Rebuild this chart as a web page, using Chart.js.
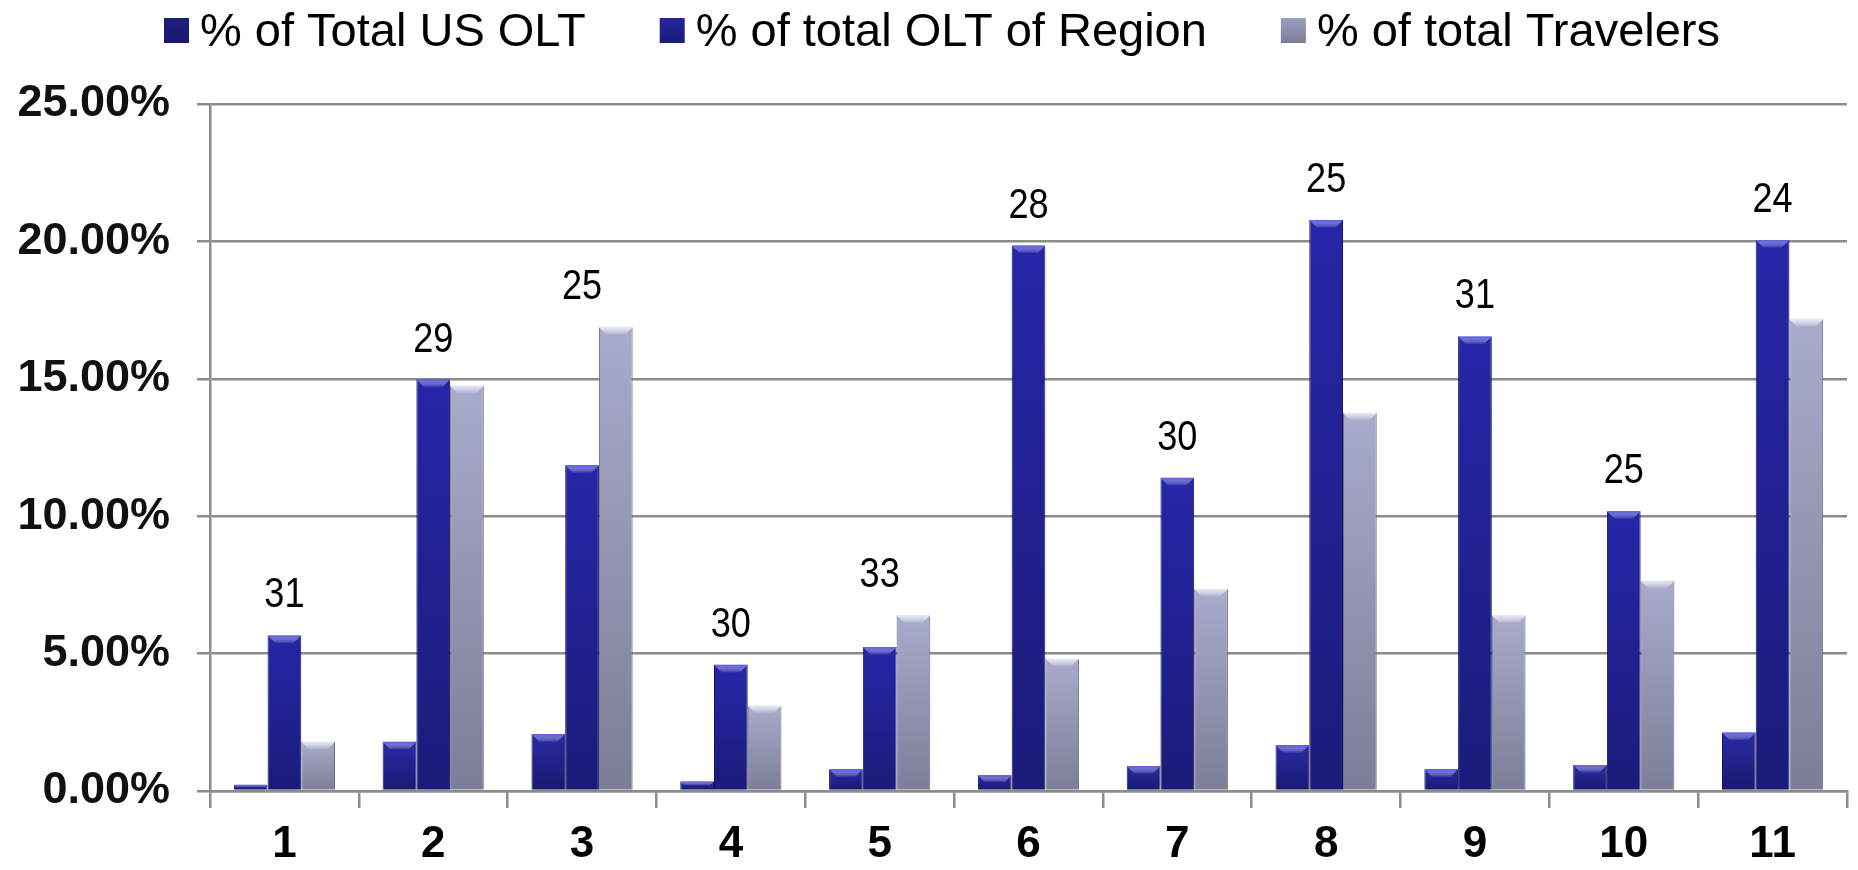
<!DOCTYPE html>
<html>
<head>
<meta charset="utf-8">
<script src="https://cdn.jsdelivr.net/npm/chart.js@4.4.0/dist/chart.umd.min.js"></script>
<style>
html,body{margin:0;padding:0;background:#ffffff;}
#wrap{width:1858px;height:870px;position:relative;}
</style>
</head>
<body>
<div id="wrap"><canvas id="c"></canvas></div>
<script>
// ---- data ----
const categories = ['1','2','3','4','5','6','7','8','9','10','11'];
const seriesNames = ['% of Total US OLT','% of total OLT of Region','% of total Travelers'];
const totalUsOlt = [0.23, 1.79, 2.07, 0.35, 0.79, 0.57, 0.91, 1.67, 0.79, 0.95, 2.13];
const regionOlt  = [5.66, 14.97, 11.85, 4.59, 5.24, 19.85, 11.40, 20.78, 16.54, 10.18, 20.05];
const travelers  = [1.79, 14.75, 16.88, 3.10, 6.39, 4.81, 7.35, 13.76, 6.39, 7.65, 17.17];
const sampleSizes = [31, 29, 25, 30, 33, 28, 30, 25, 31, 25, 24];
const yTicks = [0, 5, 10, 15, 20, 25];

// ---- styles ----
const FONT = '"Liberation Sans", Arial, Helvetica, sans-serif';
const seriesStyles = [
  {top:'#2a2aa6', bottom:'#191970', cap:'#5a5ad8', legend:'#1d1d7c', border:'#15155e'},
  {top:'#2626a8', bottom:'#1b1b7a', cap:'#5c5ce0', legend:'#2424a0', border:'#16165f'},
  {top:'#a9abcb', bottom:'#7c7d97', cap:'#e6e6f4', legend:'#9d9ebf', border:'#6d6e88'}
];

function barGradient(st){
  return function(ctx){
    const chart = ctx.chart;
    const area = chart.chartArea;
    if (!area || ctx.raw === undefined) return st.top;
    const yScale = chart.scales.y;
    const yTop = yScale.getPixelForValue(ctx.raw);
    const yBot = yScale.getPixelForValue(0);
    if (!isFinite(yTop) || yBot - yTop < 1) return st.top;
    const g = chart.ctx.createLinearGradient(0, yTop, 0, yBot);
    g.addColorStop(0, st.top);
    g.addColorStop(1, st.bottom);
    return g;
  };
}

const seriesData = [totalUsOlt, regionOlt, travelers];

const datasets = seriesData.map((d, i) => ({
  label: seriesNames[i],
  data: d,
  backgroundColor: barGradient(seriesStyles[i]),
  borderColor: seriesStyles[i].border,
  borderWidth: {left:1, right:1, top:0, bottom:0},
  categoryPercentage: 0.68,
  barPercentage: 1.0
}));

// bevel highlight on bar tops
const bevelPlugin = {
  id: 'bevel',
  afterDatasetsDraw(chart){
    const ctx = chart.ctx;
    chart.data.datasets.forEach((ds, di) => {
      const meta = chart.getDatasetMeta(di);
      meta.data.forEach(el => {
        const h = el.base - el.y;
        if (h < 3) return;
        const w = el.width;
        const d = Math.min(8, h/2);
        const x0 = el.x - w/2, x1 = el.x + w/2;
        ctx.save();
        const g = ctx.createLinearGradient(0, el.y, 0, el.y + d);
        g.addColorStop(0, seriesStyles[di].cap);
        g.addColorStop(1, 'rgba(255,255,255,0)');
        ctx.fillStyle = g;
        ctx.beginPath();
        ctx.moveTo(x0, el.y);
        ctx.lineTo(x1, el.y);
        ctx.lineTo(x1 - d, el.y + d);
        ctx.lineTo(x0 + d, el.y + d);
        ctx.closePath();
        ctx.fill();
        ctx.restore();
      });
    });
  }
};

// sample-size labels above each group
const sampleLabelPlugin = {
  id: 'sampleLabels',
  afterDatasetsDraw(chart){
    const ctx = chart.ctx;
    const metas = chart.data.datasets.map((_, i) => chart.getDatasetMeta(i));
    sampleSizes.forEach((v, i) => {
      const x = metas[1].data[i].x;
      const top = Math.min(...metas.map(m => m.data[i].y));
      ctx.save();
      ctx.font = '43px ' + FONT;
      ctx.fillStyle = '#000000';
      ctx.textAlign = 'center';
      ctx.textBaseline = 'alphabetic';
      ctx.translate(x, top - 28);
      ctx.scale(0.84, 1);
      ctx.fillText(String(v), 0, 0);
      ctx.restore();
    });
  }
};

// custom legend row
const legendPlugin = {
  id: 'customLegend',
  afterDraw(chart){
    const ctx = chart.ctx;
    ctx.save();
    ctx.font = '47px ' + FONT;
    const box = 25, gapText = 11, gapItem = 74;
    const widths = seriesNames.map(t => ctx.measureText(t).width);
    const total = widths.reduce((a, w) => a + box + gapText + w, 0) + gapItem * (seriesNames.length - 1);
    let x = chart.width / 2 + 13 - total / 2;
    const baseline = 46;
    seriesNames.forEach((t, i) => {
      const st = seriesStyles[i];
      const g = ctx.createLinearGradient(0, 18, 0, 43);
      g.addColorStop(0, st.legend);
      g.addColorStop(1, st.bottom);
      ctx.fillStyle = g;
      ctx.fillRect(x, 18, box, box);
      ctx.fillStyle = '#000000';
      ctx.textAlign = 'left';
      ctx.textBaseline = 'alphabetic';
      ctx.fillText(t, x + box + gapText, baseline);
      x += box + gapText + widths[i] + gapItem;
    });
    ctx.restore();
  }
};

const gridColor = '#8c8c8c';

new Chart(document.getElementById('c'), {
  type: 'bar',
  data: { labels: categories, datasets: datasets },
  options: {
    responsive: true,
    maintainAspectRatio: false,
    animation: false,
    events: [],
    layout: { padding: { top: 104, right: 11, bottom: 0, left: 0 } },
    plugins: {
      legend: { display: false },
      tooltip: { enabled: false }
    },
    scales: {
      x: {
        offset: true,
        grid: { display: true, drawOnChartArea: false, drawTicks: true, tickLength: 17, color: gridColor, lineWidth: 2.5 },
        border: { display: true, color: gridColor, width: 2.5 },
        ticks: { color: '#000000', font: { family: FONT, size: 44, weight: 'bold', lineHeight: 1.2 }, padding: 10, maxRotation: 0 },
        afterFit: s => { s.height = 79; }
      },
      y: {
        min: 0, max: 25,
        grid: { display: true, drawOnChartArea: true, drawTicks: true, tickLength: 13, color: gridColor, lineWidth: 2.5 },
        border: { display: true, color: gridColor, width: 2.5 },
        afterBuildTicks: s => { s.ticks = yTicks.map(v => ({ value: v })); },
        ticks: {
          color: '#111111',
          font: { family: FONT, size: 45, weight: 'bold' },
          padding: 27,
          callback: v => Number(v).toFixed(2) + '%'
        },
        afterFit: s => { s.width = 210; }
      }
    }
  },
  plugins: [bevelPlugin, sampleLabelPlugin, legendPlugin]
});
</script>
</body>
</html>
